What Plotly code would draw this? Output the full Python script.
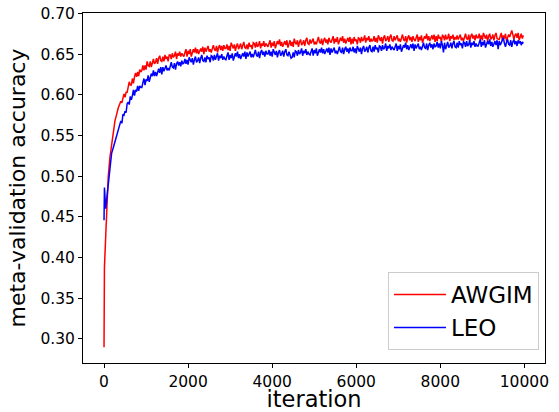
import plotly.graph_objects as go

# iteration grid
iters_early = [0, 10, 40, 70, 100, 140, 180, 220, 260, 300, 340]
iters_main = list(range(400, 10000, 25))
iterations = iters_early + iters_main

# accuracy values in units of 1e-3
awgim_early = [290, 388, 426, 464, 499, 523, 540, 556, 568, 576, 584]
awgim_main = [
    592, 590, 596, 601, 597, 603, 603, 611, 616, 612, 612, 620, 614, 622, 627, 622, 628, 623, 631, 628,
    630, 636, 630, 636, 631, 641, 636, 635, 641, 634, 641, 644, 638, 640, 645, 638, 645, 648, 642, 641,
    647, 641, 649, 644, 647, 641, 649, 649, 644, 651, 646, 648, 653, 644, 651, 648, 653, 647, 651, 648,
    647, 652, 656, 647, 654, 650, 656, 647, 653, 656, 652, 658, 651, 656, 650, 655, 657, 653, 659, 650,
    658, 653, 656, 660, 653, 656, 652, 658, 661, 656, 654, 660, 652, 658, 661, 655, 660, 654, 661, 657,
    657, 662, 655, 660, 654, 664, 659, 657, 662, 654, 660, 663, 656, 659, 663, 656, 662, 665, 658, 657,
    662, 656, 664, 659, 661, 656, 664, 663, 658, 665, 659, 661, 666, 657, 663, 660, 666, 659, 663, 660,
    659, 663, 667, 658, 664, 660, 666, 657, 662, 666, 662, 668, 660, 665, 659, 664, 666, 661, 667, 658,
    662, 667, 660, 665, 659, 669, 664, 662, 667, 659, 665, 668, 661, 663, 667, 660, 667, 670, 663, 662,
    668, 663, 666, 669, 662, 665, 662, 668, 671, 665, 663, 669, 661, 667, 670, 664, 668, 662, 670, 666,
    664, 668, 672, 663, 669, 665, 671, 662, 667, 670, 666, 672, 664, 669, 663, 668, 670, 665, 671, 662,
    669, 663, 671, 666, 668, 662, 670, 669, 664, 671, 666, 668, 673, 664, 670, 667, 672, 665, 669, 666,
    667, 672, 665, 670, 664, 673, 668, 666, 671, 663, 670, 673, 666, 668, 672, 665, 671, 674, 667, 666,
    672, 667, 670, 673, 666, 669, 665, 671, 674, 668, 666, 672, 664, 670, 673, 667, 671, 665, 672, 668,
    666, 670, 674, 665, 671, 667, 673, 664, 669, 672, 669, 675, 667, 672, 666, 671, 673, 668, 674, 665,
    672, 666, 674, 669, 671, 665, 673, 672, 667, 674, 668, 670, 675, 666, 672, 669, 674, 667, 671, 668,
    673, 668, 671, 674, 667, 670, 666, 672, 675, 669, 668, 674, 666, 672, 675, 669, 673, 667, 674, 670,
    670, 675, 668, 673, 667, 676, 671, 669, 674, 666, 672, 675, 668, 670, 674, 667, 673, 676, 669, 668,
    668, 672, 676, 667, 673, 669, 675, 666, 671, 674, 671, 677, 679, 674, 668, 673, 675, 670, 676, 667,
    670, 675, 669, 673,
]
leo_early = [446, 486, 460, 475, 495, 512, 528, 535, 542, 550, 556]
leo_main = [
    568, 565, 576, 575, 580, 578, 589, 591, 588, 598, 594, 599, 606, 599, 606, 604, 611, 605, 611, 609,
    609, 615, 620, 612, 619, 617, 624, 616, 622, 626, 623, 630, 623, 628, 623, 629, 632, 627, 634, 625,
    634, 629, 633, 636, 630, 633, 630, 636, 640, 634, 633, 639, 631, 638, 641, 636, 640, 635, 642, 638,
    639, 644, 638, 643, 637, 646, 642, 640, 645, 637, 643, 647, 640, 642, 646, 639, 645, 649, 642, 641,
    646, 640, 648, 644, 646, 640, 648, 647, 642, 649, 643, 646, 651, 642, 648, 645, 650, 643, 647, 644,
    643, 648, 652, 643, 649, 645, 651, 642, 647, 651, 647, 653, 645, 650, 644, 649, 651, 647, 653, 644,
    652, 647, 650, 653, 646, 650, 646, 652, 655, 649, 647, 653, 645, 652, 655, 649, 653, 647, 654, 650,
    650, 655, 648, 653, 647, 656, 651, 649, 654, 646, 652, 655, 648, 650, 654, 647, 653, 656, 649, 648,
    653, 647, 645, 646, 652, 646, 654, 653, 648, 655, 650, 652, 657, 648, 654, 651, 656, 649, 653, 650,
    649, 653, 657, 648, 655, 651, 657, 648, 653, 656, 652, 658, 651, 656, 650, 655, 657, 652, 658, 649,
    657, 652, 655, 658, 651, 654, 650, 656, 659, 653, 652, 658, 650, 656, 659, 653, 657, 651, 658, 654,
    654, 659, 652, 657, 651, 660, 655, 653, 658, 650, 657, 660, 653, 655, 659, 652, 658, 661, 654, 653,
    659, 653, 661, 656, 658, 652, 660, 659, 654, 661, 656, 658, 663, 654, 660, 657, 662, 655, 659, 656,
    655, 659, 663, 654, 660, 656, 662, 653, 658, 661, 658, 664, 656, 661, 655, 660, 662, 657, 663, 654,
    662, 657, 660, 663, 656, 659, 655, 661, 664, 658, 657, 663, 655, 661, 664, 658, 662, 656, 663, 659,
    660, 665, 658, 663, 657, 666, 661, 652, 664, 656, 662, 665, 658, 660, 664, 657, 663, 666, 659, 658,
    664, 658, 666, 661, 663, 657, 665, 664, 659, 666, 660, 662, 667, 658, 664, 661, 666, 659, 663, 660,
    660, 664, 668, 659, 665, 661, 667, 658, 663, 666, 662, 668, 660, 665, 659, 664, 666, 661, 667, 656,
    666, 661, 664, 667, 670, 663, 659, 665, 668, 662, 661, 667, 659, 665, 668, 662, 666, 660, 667, 663,
    666, 661, 665, 663,
]

awgim = [v / 1000 for v in awgim_early + awgim_main]
leo = [v / 1000 for v in leo_early + leo_main]

x_ticks = [0, 2000, 4000, 6000, 8000, 10000]
y_ticks = [0.30, 0.35, 0.40, 0.45, 0.50, 0.55, 0.60, 0.65, 0.70]

FONT = "DejaVu Sans"

fig = go.Figure()
fig.add_trace(go.Scatter(x=iterations, y=awgim, mode="lines", name="AWGIM",
                         line=dict(color="#ff0000", width=1.5)))
fig.add_trace(go.Scatter(x=iterations, y=leo, mode="lines", name="LEO",
                         line=dict(color="#0000ff", width=1.5)))

axis_common = dict(showline=True, linecolor="black", linewidth=1, mirror=True,
                   ticks="outside", ticklen=4, tickcolor="black", tickwidth=1,
                   showgrid=False, zeroline=False,
                   tickfont=dict(family=FONT, size=15.5, color="black"))

fig.update_xaxes(range=[-500, 10490], tickvals=x_ticks,
                 ticktext=[str(v) for v in x_ticks],
                 title=dict(text="iteration", font=dict(family=FONT, size=22.5, color="black"),
                            standoff=5),
                 **axis_common)
fig.update_yaxes(range=[0.2705, 0.7005], tickvals=y_ticks,
                 ticktext=[f"{v:.2f}" for v in y_ticks],
                 title=dict(text="meta-validation accuracy",
                            font=dict(family=FONT, size=22, color="black"), standoff=8),
                 **axis_common)

fig.update_layout(
    width=559, height=412,
    margin=dict(l=83, r=14, t=13, b=49, autoexpand=False),
    plot_bgcolor="white", paper_bgcolor="white",
    font=dict(family=FONT, color="black"),
    legend=dict(x=0.987, xanchor="right", y=0.037, yanchor="bottom",
                bgcolor="white", bordercolor="#cccccc", borderwidth=1,
                font=dict(family=FONT, size=23, color="black"),
                itemwidth=52, tracegroupgap=0),
    showlegend=True,
)

fig.write_html(
    "out.html",
    config={"displayModeBar": False},
    post_script="document.body.style.margin='0';document.body.style.overflow='hidden';",
)
